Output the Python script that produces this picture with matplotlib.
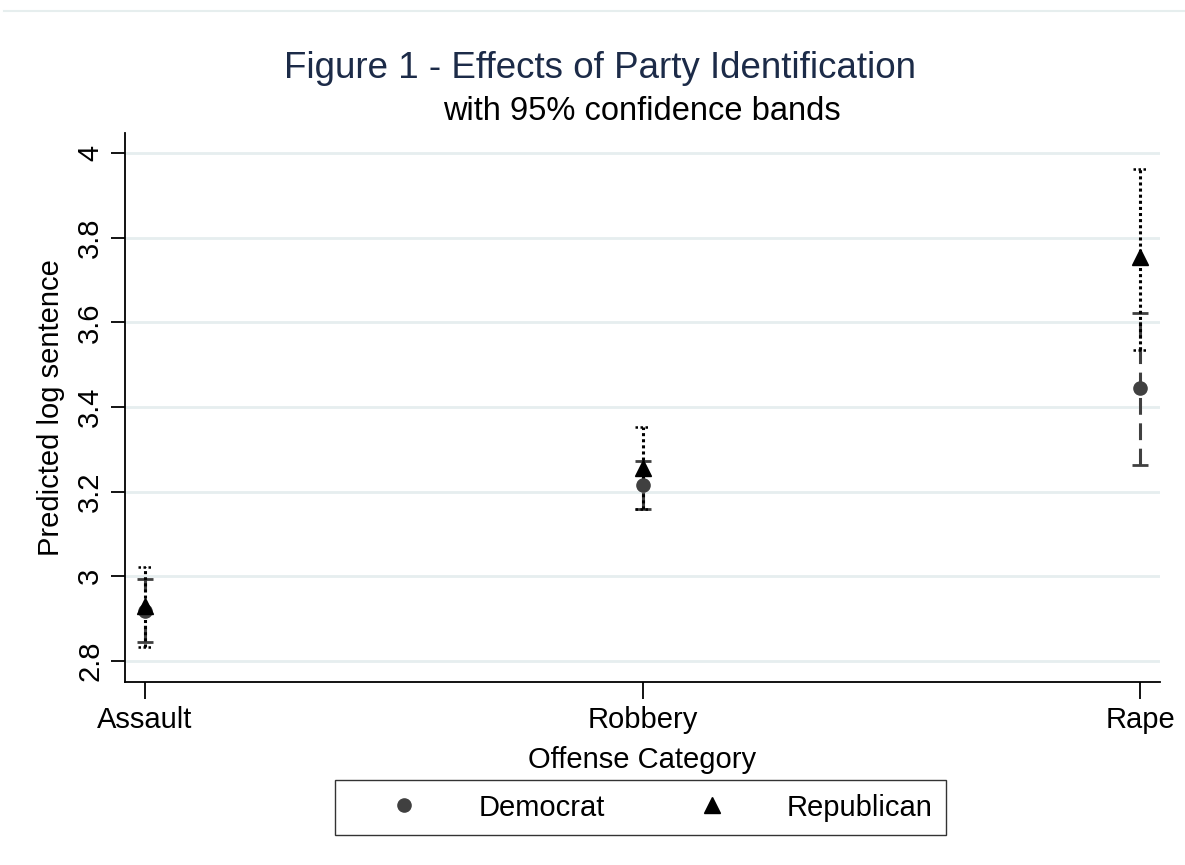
import matplotlib
matplotlib.use("Agg")
import matplotlib.pyplot as plt
from matplotlib.lines import Line2D
import numpy as np

plt.rcParams['font.family'] = ['Liberation Sans', 'DejaVu Sans']

categories = ["Assault", "Robbery", "Rape"]
dem_est = [2.917, 3.215, 3.444]
dem_lo = [2.846, 3.158, 3.262]
dem_hi = [2.993, 3.272, 3.623]
rep_est = [2.930, 3.255, 3.753]
rep_lo = [2.832, 3.160, 3.534]
rep_hi = [3.021, 3.352, 3.963]
yticks = [2.8, 3.0, 3.2, 3.4, 3.6, 3.8, 4.0]
ytick_labels = ["2.8", "3", "3.2", "3.4", "3.6", "3.8", "4"]

W, H = 1185, 865
fig = plt.figure(figsize=(W/100, H/100), dpi=100)
ax = fig.add_axes([125/W, 1-682/H, (1160-125)/W, (682-133)/H])

x = np.arange(len(categories))
dem_err = [np.array(dem_est)-np.array(dem_lo), np.array(dem_hi)-np.array(dem_est)]
rep_err = [np.array(rep_est)-np.array(rep_lo), np.array(rep_hi)-np.array(rep_est)]

dcol = '#404040'
e1 = ax.errorbar(x, dem_est, yerr=dem_err, fmt='none', ecolor=dcol, elinewidth=2.2,
                 capsize=5.5, capthick=2, zorder=3)
e1[2][0].set_linestyle((0, (5.5, 2.8)))
e2 = ax.errorbar(x, rep_est, yerr=rep_err, fmt='none', ecolor='black', elinewidth=2.2,
                 capsize=0, zorder=3)
e2[2][0].set_linestyle((0, (1, 1)))
capw = 0.0145
ax.hlines(rep_lo, x - capw, x + capw, colors='black', linewidth=1.8,
          linestyles=[(0, (1, 1))], zorder=3)
ax.hlines(rep_hi, x - capw, x + capw, colors='black', linewidth=1.8,
          linestyles=[(0, (1, 1))], zorder=3)
ax.plot(x, dem_est, 'o', color=dcol, markersize=9.5, zorder=4, label='Democrat')
ax.plot(x, rep_est, '^', color='black', markersize=12, zorder=5, label='Republican')

ax.set_xlim(-0.0402, 2.0402)
ax.set_ylim(2.7504, 4.047)
ax.set_yticks(yticks)
ax.set_yticklabels(ytick_labels, rotation=90, va='center')
ax.set_xticks(x)
ax.set_xticklabels(categories)
ax.grid(axis='y', color='#e6eeef', linewidth=2)
ax.set_axisbelow(True)
for s in ['top', 'right']:
    ax.spines[s].set_visible(False)
for s in ['left', 'bottom']:
    ax.spines[s].set_linewidth(1.3)
ax.tick_params(axis='y', length=10, width=1.3, labelsize=21, pad=5)
ax.tick_params(axis='x', length=12, width=1.3, labelsize=21, pad=5)
ax.set_xlabel("Offense Category", fontsize=21, labelpad=9)
ax.set_ylabel("Predicted log sentence", fontsize=21, labelpad=8)

fig.text(600/W, 1-68/H, "Figure 1 - Effects of Party Identification", ha='center', va='center',
         fontsize=26.5, color='#1c2b48')
fig.text(642/W, 1-111/H, "with 95% confidence bands", ha='center', va='center',
         fontsize=23.5, color='black')

fig.add_artist(Line2D([4/W, 1], [1-11/H, 1-11/H], color='#e6eeee', linewidth=1.5,
                      transform=fig.transFigure))

handles = [Line2D([], [], marker='o', color=dcol, linestyle='none', markersize=9.5),
           Line2D([], [], marker='^', color='black', linestyle='none', markersize=12)]
leg = fig.legend(handles, ["Democrat", "Republican"], ncol=2,
                 bbox_to_anchor=(333/W, 1-834/H, 615/W, 53/H), loc='center',
                 fontsize=21, frameon=True, fancybox=False, edgecolor='black',
                 handlelength=3.8, handletextpad=0.66, columnspacing=1.77, borderpad=0.45)
leg.get_frame().set_linewidth(1.0)

fig.savefig("out.png", dpi=100, facecolor='white')
